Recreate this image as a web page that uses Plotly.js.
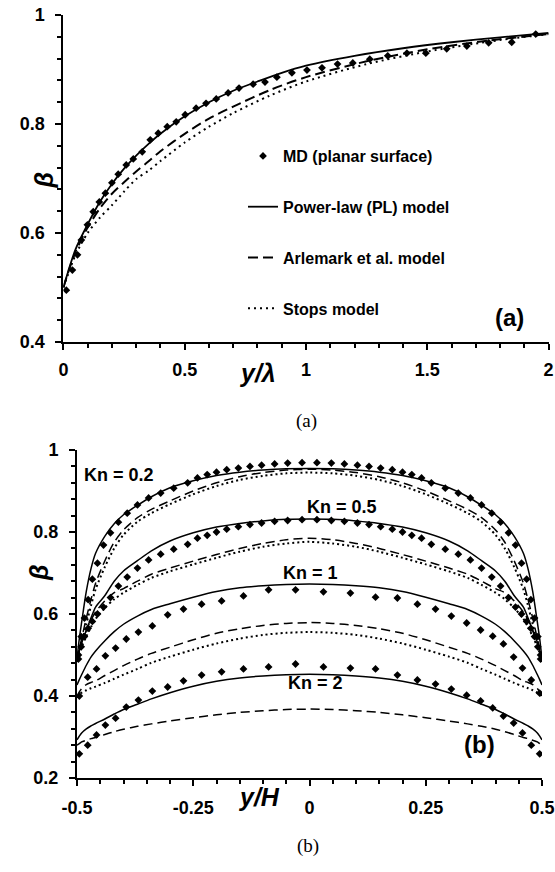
<!DOCTYPE html>
<html>
<head>
<meta charset="utf-8">
<script src="https://cdn.plot.ly/plotly-3.0.1.min.js"></script>
<style>html,body{margin:0;padding:0;background:#fff;}#chart{width:555px;height:872px;}</style>
</head>
<body>
<div id="chart"></div>
<script>
// ---------- Panel (a) data ----------
var topMdX = [0.012,0.037,0.058,0.074,0.099,0.123,0.148,0.173,0.2,0.226,0.259,0.288,0.325,0.358,0.391,0.428,0.465,0.502,0.547,0.588,0.63,0.679,0.724,0.782,0.831,0.88,0.942,1.004,1.066,1.13,1.193,1.263,1.337,1.416,1.494,1.58,1.663,1.753,1.848,1.947];
var topMdB = [0.495,0.532,0.56,0.587,0.615,0.639,0.657,0.673,0.692,0.708,0.725,0.736,0.749,0.771,0.783,0.795,0.804,0.817,0.829,0.838,0.846,0.857,0.866,0.873,0.877,0.886,0.894,0.899,0.903,0.91,0.912,0.919,0.925,0.93,0.93,0.938,0.943,0.949,0.95,0.965];
var topPlX = [0,0.02,0.05,0.1,0.15,0.2,0.25,0.3,0.35,0.4,0.5,0.6,0.7,0.8,0.9,1.0,1.2,1.4,1.6,1.8,2.0];
var topPlB = [0.5,0.53,0.57,0.616,0.657,0.69,0.718,0.742,0.763,0.782,0.814,0.84,0.861,0.878,0.894,0.907,0.925,0.939,0.95,0.959,0.967];
var topArX = [0,0.02,0.05,0.1,0.15,0.2,0.25,0.3,0.35,0.4,0.5,0.6,0.7,0.85,1.0,1.25,1.5,1.75,2.0];
var topArB = [0.5,0.528,0.565,0.61,0.645,0.672,0.693,0.713,0.731,0.75,0.782,0.81,0.832,0.862,0.886,0.915,0.937,0.953,0.965];
var topStX = [0,0.02,0.05,0.1,0.15,0.2,0.25,0.3,0.35,0.4,0.5,0.6,0.7,0.85,1.0,1.25,1.5,1.75,2.0];
var topStB = [0.5,0.525,0.56,0.6,0.628,0.651,0.676,0.699,0.714,0.732,0.766,0.795,0.82,0.852,0.878,0.91,0.933,0.951,0.965];

// ---------- Panel (b) data ----------
var modelX = [-0.5,-0.495,-0.49,-0.48,-0.47,-0.46,-0.44,-0.42,-0.4,-0.37,-0.34,-0.3,-0.25,-0.2,-0.15,-0.1,-0.05,0,0.05,0.1,0.15,0.2,0.25,0.3,0.34,0.37,0.4,0.42,0.44,0.46,0.47,0.48,0.49,0.495,0.5];
var kn02Pl = [0.49,0.54,0.58,0.655,0.71,0.748,0.79,0.82,0.842,0.865,0.886,0.908,0.925,0.938,0.946,0.951,0.954,0.955,0.954,0.951,0.946,0.938,0.925,0.908,0.886,0.865,0.842,0.82,0.79,0.748,0.71,0.655,0.58,0.54,0.49];
var kn02Ar = [0.49,0.515,0.54,0.59,0.635,0.675,0.73,0.775,0.805,0.835,0.855,0.876,0.9,0.92,0.935,0.945,0.951,0.953,0.951,0.945,0.935,0.92,0.9,0.876,0.855,0.835,0.805,0.775,0.73,0.675,0.635,0.59,0.54,0.515,0.49];
var kn02St = [0.49,0.51,0.53,0.575,0.62,0.66,0.715,0.76,0.793,0.825,0.846,0.868,0.892,0.912,0.927,0.937,0.943,0.945,0.943,0.937,0.927,0.912,0.892,0.868,0.846,0.825,0.793,0.76,0.715,0.66,0.62,0.575,0.53,0.51,0.49];
var kn05Pl = [0.49,0.51,0.53,0.56,0.59,0.617,0.645,0.68,0.705,0.73,0.754,0.778,0.798,0.812,0.821,0.827,0.831,0.832,0.831,0.827,0.821,0.812,0.798,0.778,0.754,0.73,0.705,0.68,0.645,0.617,0.59,0.56,0.53,0.51,0.49];
var kn05Ar = [0.49,0.51,0.53,0.56,0.585,0.605,0.632,0.652,0.662,0.68,0.697,0.712,0.729,0.745,0.76,0.772,0.781,0.785,0.781,0.772,0.76,0.745,0.729,0.712,0.697,0.68,0.662,0.652,0.632,0.605,0.585,0.56,0.53,0.51,0.49];
var kn05St = [0.49,0.505,0.52,0.545,0.568,0.588,0.615,0.636,0.652,0.671,0.688,0.704,0.721,0.737,0.752,0.764,0.772,0.776,0.772,0.764,0.752,0.737,0.721,0.704,0.688,0.671,0.652,0.636,0.615,0.588,0.568,0.545,0.52,0.505,0.49];
var kn1Pl = [0.427,0.44,0.452,0.475,0.495,0.51,0.535,0.557,0.575,0.595,0.611,0.625,0.641,0.655,0.664,0.669,0.672,0.673,0.672,0.669,0.664,0.655,0.641,0.625,0.611,0.595,0.575,0.557,0.535,0.51,0.495,0.475,0.452,0.44,0.427];
var kn1Ar = [0.398,0.41,0.418,0.428,0.433,0.437,0.45,0.462,0.474,0.49,0.504,0.519,0.537,0.553,0.564,0.572,0.577,0.579,0.577,0.572,0.564,0.553,0.537,0.519,0.504,0.49,0.474,0.462,0.45,0.437,0.433,0.428,0.418,0.41,0.398];
var kn1St = [0.398,0.404,0.408,0.414,0.419,0.423,0.432,0.442,0.452,0.466,0.481,0.496,0.513,0.528,0.54,0.549,0.554,0.556,0.554,0.549,0.54,0.528,0.513,0.496,0.481,0.466,0.452,0.442,0.432,0.423,0.419,0.414,0.408,0.404,0.398];
var kn2Pl = [0.293,0.302,0.31,0.32,0.327,0.333,0.344,0.356,0.367,0.38,0.393,0.408,0.424,0.436,0.444,0.449,0.452,0.453,0.452,0.449,0.444,0.436,0.424,0.408,0.393,0.38,0.367,0.356,0.344,0.333,0.327,0.32,0.31,0.302,0.293];
var kn2Ar = [0.28,0.284,0.288,0.292,0.296,0.299,0.306,0.313,0.319,0.326,0.332,0.339,0.347,0.354,0.36,0.364,0.367,0.368,0.367,0.364,0.36,0.354,0.347,0.339,0.332,0.326,0.319,0.313,0.306,0.299,0.296,0.292,0.288,0.284,0.28];

var mdXFine = [-0.497,-0.491,-0.484,-0.476,-0.467,-0.456,-0.443,-0.428,-0.411,-0.392,-0.37,-0.346,-0.32,-0.292,-0.262,-0.241,-0.22,-0.2,-0.178,-0.153,-0.128,-0.103,-0.075,-0.047,-0.016,0.016,0.047,0.075,0.103,0.128,0.153,0.178,0.2,0.22,0.241,0.262,0.292,0.32,0.346,0.37,0.392,0.411,0.428,0.443,0.456,0.467,0.476,0.484,0.491,0.497];
var kn02Md = [0.5,0.545,0.59,0.635,0.685,0.724,0.768,0.798,0.824,0.846,0.866,0.883,0.895,0.907,0.92,0.932,0.94,0.946,0.952,0.956,0.96,0.963,0.966,0.968,0.969,0.969,0.968,0.966,0.963,0.96,0.956,0.952,0.946,0.94,0.932,0.92,0.907,0.895,0.883,0.866,0.846,0.824,0.798,0.768,0.724,0.685,0.635,0.59,0.545,0.5];
var kn05Md = [0.49,0.52,0.545,0.565,0.582,0.6,0.617,0.64,0.668,0.69,0.712,0.732,0.746,0.758,0.77,0.785,0.792,0.8,0.807,0.813,0.818,0.822,0.826,0.828,0.83,0.83,0.828,0.826,0.822,0.818,0.813,0.807,0.8,0.792,0.785,0.77,0.758,0.746,0.732,0.712,0.69,0.668,0.64,0.617,0.6,0.582,0.565,0.545,0.52,0.49];
var mdXCoarse = [-0.495,-0.477,-0.458,-0.439,-0.417,-0.394,-0.368,-0.338,-0.305,-0.271,-0.232,-0.189,-0.142,-0.088,-0.03,0.03,0.088,0.142,0.189,0.232,0.271,0.305,0.338,0.368,0.394,0.417,0.439,0.458,0.477,0.495];
var kn1Md = [0.40,0.446,0.466,0.498,0.517,0.539,0.556,0.571,0.598,0.612,0.624,0.632,0.644,0.659,0.659,0.654,0.651,0.641,0.639,0.624,0.612,0.595,0.578,0.561,0.546,0.527,0.495,0.468,0.439,0.407];
var kn2Md = [0.259,0.28,0.305,0.329,0.346,0.373,0.39,0.412,0.422,0.437,0.451,0.459,0.466,0.471,0.478,0.471,0.468,0.466,0.451,0.439,0.429,0.417,0.402,0.388,0.371,0.351,0.334,0.31,0.28,0.259];

var topTickText = ['0','0.5','1','1.5','2'];
var topTickVals = [0,0.5,1,1.5,2];
var botTickText = ['-0.5','-0.25','0','0.25','0.5'];
var botTickVals = [-0.5,-0.25,0,0.25,0.5];

var FONT = 'Liberation Sans, Arial, sans-serif';
var traces = [];
function line(x, y, dash, w, xa, ya, name, show, grp) {
  return {x:x, y:y, mode:'lines', type:'scatter', xaxis:xa, yaxis:ya, name:name||'',
    showlegend:!!show, legendgroup:grp||undefined,
    line:{color:'#000', width:w, dash:dash, shape:'spline', smoothing:0.8}, hoverinfo:'skip'};
}
function pts(x, y, xa, ya, name, show, grp) {
  return {x:x, y:y, mode:'markers', type:'scatter', xaxis:xa, yaxis:ya, name:name||'',
    showlegend:!!show, legendgroup:grp||undefined,
    marker:{symbol:'diamond', size:6, color:'#000'}, hoverinfo:'skip'};
}
// panel (a)
traces.push(pts(topMdX, topMdB, 'x', 'y', 'MD (planar surface)', true, 'g1'));
traces.push(line(topPlX, topPlB, 'solid', 1.8, 'x', 'y', 'Power-law (PL) model', true, 'g2'));
traces.push(line(topArX, topArB, '10px,5px', 2, 'x', 'y', 'Arlemark et al. model', true, 'g3'));
traces.push(line(topStX, topStB, '2px,4px', 2, 'x', 'y', 'Stops model', true, 'g4'));
// panel (b)
[kn02Pl, kn05Pl, kn1Pl, kn2Pl].forEach(function(s){ traces.push(line(modelX, s, 'solid', 1.5, 'x2', 'y2')); });
[kn02Ar, kn05Ar, kn1Ar, kn2Ar].forEach(function(s){ traces.push(line(modelX, s, '9px,5px', 1.5, 'x2', 'y2')); });
[kn02St, kn05St, kn1St].forEach(function(s){ traces.push(line(modelX, s, '2px,3px', 2, 'x2', 'y2')); });
traces.push(pts(mdXFine, kn02Md, 'x2', 'y2'));
traces.push(pts(mdXFine, kn05Md, 'x2', 'y2'));
traces.push(pts(mdXCoarse, kn1Md, 'x2', 'y2'));
traces.push(pts(mdXCoarse, kn2Md, 'x2', 'y2'));

function axis(extra) {
  var base = {showline:true, linecolor:'#000', linewidth:2, showgrid:false, zeroline:false,
    ticks:'outside', ticklen:6, tickwidth:2, tickcolor:'#000',
    tickfont:{family:FONT, size:18, color:'#000', weight:'bold'}, fixedrange:true};
  for (var k in extra) base[k] = extra[k];
  return base;
}
var W = 555, H = 872;
function px(v){ return v / W; }
function py(v){ return 1 - v / H; }
var annFont = function(sz, it){ return {family:FONT, size:sz, color:'#000', weight:'bold', style: it ? 'italic' : 'normal'}; };
var minorX1 = {tickmode:'linear', tick0:0, dtick:0.1, ticks:'outside', ticklen:4, tickwidth:2, tickcolor:'#000', showgrid:false};
var minorY1 = {tickmode:'linear', tick0:0.4, dtick:0.04, ticks:'outside', ticklen:4, tickwidth:2, tickcolor:'#000', showgrid:false};
var minorX2 = {tickmode:'linear', tick0:-0.5, dtick:0.05, ticks:'outside', ticklen:4, tickwidth:2, tickcolor:'#000', showgrid:false};
var minorY2 = {tickmode:'linear', tick0:0.2, dtick:0.04, ticks:'outside', ticklen:4, tickwidth:2, tickcolor:'#000', showgrid:false};
var layout = {
  width:W, height:H, margin:{l:0, r:0, t:0, b:0}, paper_bgcolor:'#fff', plot_bgcolor:'#fff',
  showlegend:true,
  legend:{x:px(243), y:py(139), xanchor:'left', yanchor:'top', bgcolor:'rgba(0,0,0,0)',
    font:{family:FONT, size:16, color:'#000', weight:'bold'}, tracegroupgap:27, itemwidth:30, traceorder:'grouped'},
  xaxis:axis({domain:[px(63.4), px(548.6)], range:[0,2], anchor:'y', tickmode:'array', tickvals:topTickVals, ticktext:topTickText,
    ticklabelstandoff:4, minor:minorX1}),
  yaxis:axis({domain:[py(342), py(15)], range:[0.4,1], anchor:'x', tickmode:'linear', dtick:0.2, tick0:0.4,
    ticklabelstandoff:7, minor:minorY1}),
  xaxis2:axis({domain:[px(77), px(542)], range:[-0.5,0.5], anchor:'y2', tickmode:'array', tickvals:botTickVals, ticktext:botTickText,
    ticklabelstandoff:6, minor:minorX2}),
  yaxis2:axis({domain:[py(778), py(450)], range:[0.2,1], anchor:'x2', tickmode:'linear', dtick:0.2, tick0:0.2,
    ticklabelstandoff:7, minor:minorY2}),
  annotations:[
    {text:'β', x:px(27), y:py(170), xref:'paper', yref:'paper', showarrow:false, textangle:-90, font:annFont(25,true)},
    {text:'y/λ', x:px(257), y:py(373), xref:'paper', yref:'paper', showarrow:false, font:annFont(25,true)},
    {text:'(a)', x:px(526), y:py(317), xref:'paper', yref:'paper', showarrow:false, font:annFont(24,false)},
    {text:'(a)', x:px(306), y:py(421), xref:'paper', yref:'paper', showarrow:false, font:{family:'Liberation Serif, Times New Roman, serif', size:19, color:'#000'}},
    {text:'β', x:px(23), y:py(573), xref:'paper', yref:'paper', showarrow:false, textangle:-90, font:annFont(25,true)},
    {text:'y/H', x:px(259), y:py(813), xref:'paper', yref:'paper', showarrow:false, font:annFont(25,true)},
    {text:'(b)', x:px(497), y:py(760), xref:'paper', yref:'paper', showarrow:false, font:annFont(24,false)},
    {text:'(b)', x:px(308), y:py(859), xref:'paper', yref:'paper', showarrow:false, font:{family:'Liberation Serif, Times New Roman, serif', size:19, color:'#000'}},
    {text:'Kn = 0.2', x:px(82), y:py(475), xref:'paper', yref:'paper', xanchor:'left', showarrow:false, font:annFont(18,false)},
    {text:'Kn = 0.5', x:px(342), y:py(507), xref:'paper', yref:'paper', showarrow:false, font:annFont(18,false)},
    {text:'Kn = 1', x:px(310), y:py(573), xref:'paper', yref:'paper', showarrow:false, font:annFont(18,false)},
    {text:'Kn = 2', x:px(315), y:py(695), xref:'paper', yref:'paper', showarrow:false, font:annFont(18,false)}
  ]
};
Plotly.newPlot('chart', traces, layout, {staticPlot:true, displayModeBar:false});
</script>
</body>
</html>
